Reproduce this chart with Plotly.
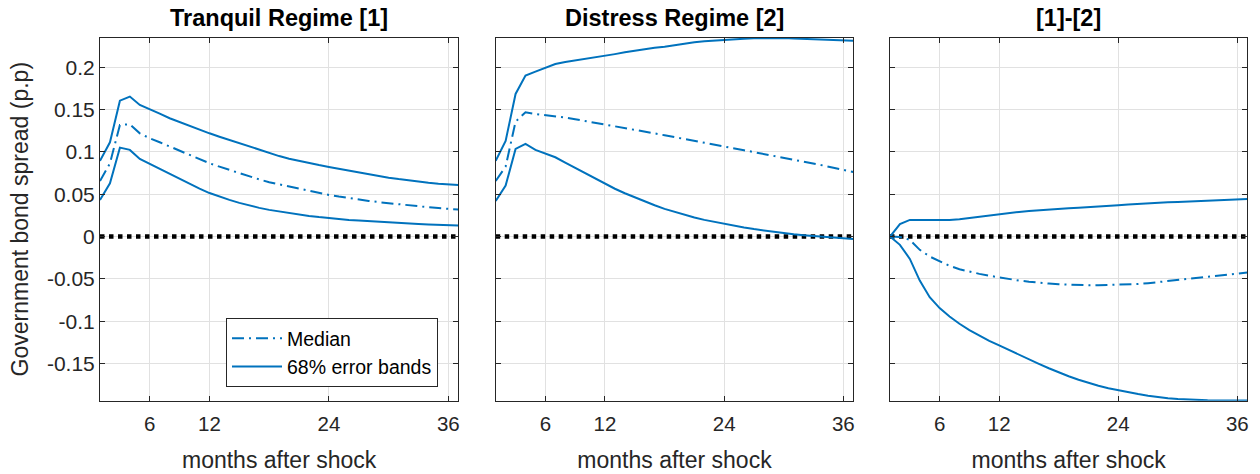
import plotly.graph_objects as go

months = list(range(1, 38))

tranquil_median = [0.0657, 0.0866, 0.1319, 0.1327, 0.1220, 0.1161, 0.1114, 0.1063, 0.1013, 0.0965,
                   0.0915, 0.0866, 0.0826, 0.0787, 0.0748, 0.0709, 0.0675, 0.0642, 0.0616, 0.0590,
                   0.0564, 0.0539, 0.0515, 0.0492, 0.0472, 0.0453, 0.0437, 0.0421, 0.0407, 0.0394,
                   0.0380, 0.0366, 0.0356, 0.0346, 0.0336, 0.0327, 0.0319]
tranquil_upper = [0.0894, 0.1114, 0.1606, 0.1654, 0.1555, 0.1508, 0.1453, 0.1398, 0.1352, 0.1307,
                  0.1262, 0.1220, 0.1180, 0.1142, 0.1102, 0.1063, 0.1023, 0.0985, 0.0951, 0.0920,
                  0.0893, 0.0868, 0.0845, 0.0823, 0.0801, 0.0780, 0.0757, 0.0736, 0.0715, 0.0696,
                  0.0679, 0.0663, 0.0649, 0.0636, 0.0625, 0.0616, 0.0609]
tranquil_lower = [0.0433, 0.0630, 0.1051, 0.1024, 0.0917, 0.0858, 0.0799, 0.0740, 0.0680, 0.0622,
                  0.0566, 0.0514, 0.0471, 0.0433, 0.0398, 0.0366, 0.0339, 0.0315, 0.0295, 0.0276,
                  0.0259, 0.0244, 0.0230, 0.0217, 0.0207, 0.0197, 0.0189, 0.0181, 0.0173, 0.0165,
                  0.0160, 0.0154, 0.0148, 0.0142, 0.0138, 0.0134, 0.0130]

distress_median = [0.0657, 0.0827, 0.1358, 0.1469, 0.1449, 0.1437, 0.1425, 0.1406, 0.1386, 0.1366,
                   0.1342, 0.1319, 0.1300, 0.1280, 0.1260, 0.1240, 0.1219, 0.1197, 0.1176, 0.1154,
                   0.1132, 0.1110, 0.1089, 0.1067, 0.1044, 0.1020, 0.0998, 0.0976, 0.0952, 0.0929,
                   0.0905, 0.0882, 0.0861, 0.0839, 0.0813, 0.0787, 0.0762]
distress_upper = [0.0894, 0.1130, 0.1685, 0.1902, 0.1949, 0.1996, 0.2039, 0.2063, 0.2080, 0.2098,
                  0.2116, 0.2134, 0.2156, 0.2177, 0.2197, 0.2217, 0.2230, 0.2244, 0.2264, 0.2283,
                  0.2295, 0.2307, 0.2317, 0.2327, 0.2333, 0.2339, 0.2343, 0.2346, 0.2347, 0.2346,
                  0.2340, 0.2335, 0.2333, 0.2331, 0.2325, 0.2319, 0.2315]
distress_lower = [0.0421, 0.0602, 0.1035, 0.1094, 0.1024, 0.0976, 0.0937, 0.0874, 0.0811, 0.0748,
                  0.0683, 0.0618, 0.0565, 0.0512, 0.0462, 0.0413, 0.0370, 0.0327, 0.0291, 0.0256,
                  0.0226, 0.0197, 0.0173, 0.0150, 0.0128, 0.0106, 0.0088, 0.0071, 0.0055, 0.0039,
                  0.0027, 0.0016, 0.0006, -0.0004, -0.0014, -0.0024, -0.0030]

diff_median = [0.0, -0.0004, -0.0039, -0.0157, -0.0236, -0.0295, -0.0346, -0.0386, -0.0415, -0.0441,
               -0.0463, -0.0484, -0.0502, -0.0520, -0.0534, -0.0547, -0.0555, -0.0563, -0.0569, -0.0575,
               -0.0576, -0.0575, -0.0573, -0.0571, -0.0567, -0.0561, -0.0551, -0.0539, -0.0528, -0.0516,
               -0.0504, -0.0492, -0.0481, -0.0469, -0.0455, -0.0441, -0.0425]
diff_upper = [0.0, 0.0146, 0.0197, 0.0197, 0.0193, 0.0200, 0.0196, 0.0205, 0.0220, 0.0236,
              0.0252, 0.0268, 0.0280, 0.0291, 0.0301, 0.0311, 0.0319, 0.0327, 0.0333, 0.0339,
              0.0349, 0.0358, 0.0364, 0.0370, 0.0378, 0.0386, 0.0392, 0.0398, 0.0404, 0.0409,
              0.0413, 0.0417, 0.0421, 0.0425, 0.0431, 0.0437, 0.0445]
diff_lower = [0.0, -0.0098, -0.0264, -0.0520, -0.0717, -0.0846, -0.0945, -0.1031, -0.1105, -0.1173,
              -0.1232, -0.1287, -0.1343, -0.1398, -0.1452, -0.1504, -0.1556, -0.1606, -0.1651, -0.1693,
              -0.1730, -0.1764, -0.1793, -0.1819, -0.1842, -0.1862, -0.1881, -0.1898, -0.1911, -0.1921,
              -0.1928, -0.1933, -0.1936, -0.1937, -0.1937, -0.1937, -0.1937]

panel_titles = ["Tranquil Regime [1]", "Distress Regime [2]", "[1]-[2]"]
x_tickvals = [6, 12, 24, 36]
x_ticktext = ["6", "12", "24", "36"]
y_tickvals = [-0.15, -0.1, -0.05, 0, 0.05, 0.1, 0.15, 0.2]
y_ticktext = ["-0.15", "-0.1", "-0.05", "0", "0.05", "0.1", "0.15", "0.2"]
x_label = "months after shock"
y_label = "Government bond spread (p.p)"
legend_names = ["Median", "68% error bands"]

panels = [
    (tranquil_median, tranquil_upper, tranquil_lower),
    (distress_median, distress_upper, distress_lower),
    (diff_median, diff_upper, diff_lower),
]

W, H = 1260, 474
BLUE = "#0072BD"
AX = "#262626"
FONT = "Liberation Sans, Arial, Helvetica, sans-serif"
x_px = [(100, 458.3), (495.7, 853.3), (890, 1247.3)]
y_dom = [1 - 400.7 / H, 1 - 37.7 / H]
DASHDOT = "12px,5px,2px,5px"

fig = go.Figure()
for i, (med, up, lo) in enumerate(panels):
    xa = "x" if i == 0 else f"x{i+1}"
    ya = "y" if i == 0 else f"y{i+1}"
    fig.add_trace(go.Scatter(x=[months[0], months[-1]], y=[0, 0], mode="lines",
                             line=dict(color="black", width=4.5, dash="dot"),
                             showlegend=False, hoverinfo="skip", xaxis=xa, yaxis=ya))
    fig.add_trace(go.Scatter(x=months, y=med, mode="lines", name=legend_names[0],
                             line=dict(color=BLUE, width=2, dash=DASHDOT),
                             showlegend=(i == 0), xaxis=xa, yaxis=ya))
    fig.add_trace(go.Scatter(x=months, y=up, mode="lines", name=legend_names[1],
                             line=dict(color=BLUE, width=2),
                             showlegend=(i == 0), xaxis=xa, yaxis=ya))
    fig.add_trace(go.Scatter(x=months, y=lo, mode="lines", name=legend_names[1],
                             line=dict(color=BLUE, width=2),
                             showlegend=False, xaxis=xa, yaxis=ya))

layout = dict(
    width=W, height=H,
    margin=dict(l=0, r=0, t=0, b=0, autoexpand=False),
    paper_bgcolor="white", plot_bgcolor="white",
    font=dict(family=FONT, color=AX, size=20),
    legend=dict(x=226 / W, y=1 - 318 / H, xanchor="left", yanchor="top",
                bgcolor="white", bordercolor=AX, borderwidth=1,
                font=dict(family=FONT, size=19.5, color="black"),
                itemwidth=50, tracegroupgap=0),
    annotations=[],
)

for i in range(3):
    sfx = "" if i == 0 else str(i + 1)
    x0, x1 = x_px[i]
    layout["xaxis" + sfx] = dict(
        domain=[x0 / W, x1 / W], range=[1, 37], anchor="y" + sfx, automargin=False,
        tickvals=x_tickvals, ticktext=x_ticktext,
        ticks="inside", ticklen=5, tickcolor=AX, tickwidth=1,
        showline=True, linecolor=AX, linewidth=1, mirror="ticks",
        showgrid=True, gridcolor="#e1e1e1", gridwidth=1, zeroline=False,
        tickfont=dict(family=FONT, size=20.5, color=AX),
        ticklabelstandoff=5,
        title=dict(text=x_label, font=dict(family=FONT, size=23, color=AX), standoff=17),
    )
    layout["yaxis" + sfx] = dict(
        domain=y_dom, range=[-0.194, 0.235], anchor="x" + sfx, automargin=False,
        tickvals=y_tickvals, ticktext=y_ticktext,
        ticks="inside", ticklen=5, tickcolor=AX, tickwidth=1,
        showline=True, linecolor=AX, linewidth=1, mirror="ticks",
        showgrid=True, gridcolor="#e1e1e1", gridwidth=1, zeroline=False,
        showticklabels=(i == 0),
        tickfont=dict(family=FONT, size=21, color=AX),
        ticklabelstandoff=0,
    )
    if i == 0:
        layout["yaxis"]["title"] = dict(text=y_label, font=dict(family=FONT, size=23, color=AX), standoff=11)
    layout["annotations"].append(dict(
        text="<b>" + panel_titles[i] + "</b>", xref="paper", yref="paper",
        x=(x0 + x1) / 2 / W, y=1 - 33 / H, xanchor="center", yanchor="bottom",
        showarrow=False, font=dict(family=FONT, size=23.5, color="black"),
    ))

fig.update_layout(**layout)
fig.write_html("out.html", config={"displayModeBar": False},
               post_script="document.body.style.margin='0';")
